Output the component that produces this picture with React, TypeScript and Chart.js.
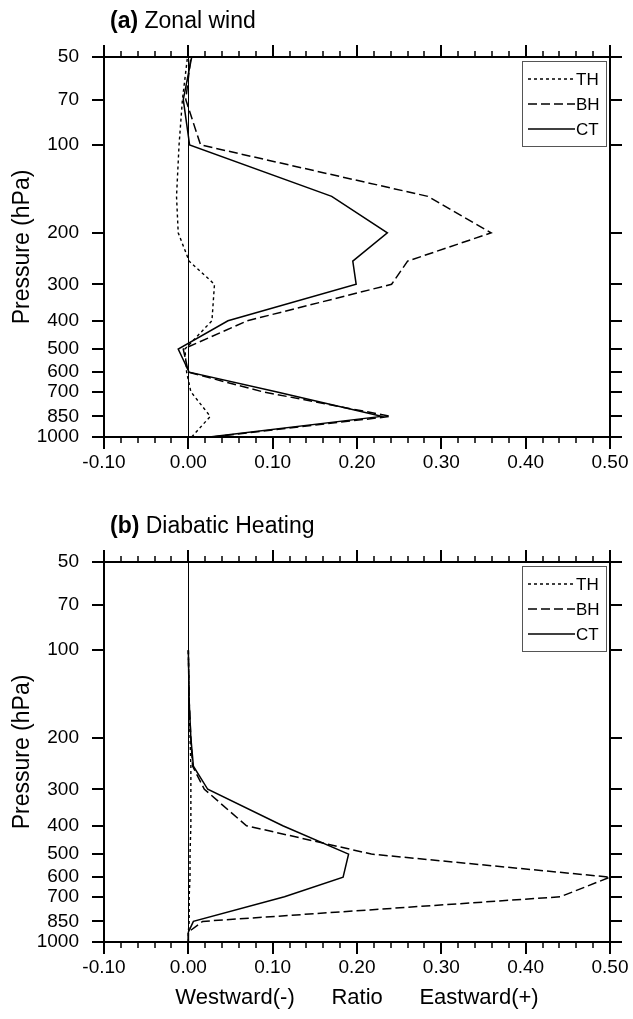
import React, { useEffect, useRef } from "react";
import { Chart, registerables } from "chart.js";

Chart.register(...registerables);

const FONT = '"Liberation Sans", Arial, Helvetica, sans-serif';

const pressureTicks = [50, 70, 100, 200, 300, 400, 500, 600, 700, 850, 1000];
const ratioTicks = [-0.1, 0, 0.1, 0.2, 0.3, 0.4, 0.5];
const minorStep = 0.02;
const seriesNames = ["TH", "BH", "CT"];
const xTitle = "Westward(-)      Ratio      Eastward(+)";

// (a) Zonal wind
const levelsA = [1000, 850, 700, 600, 500, 400, 300, 250, 200, 150, 100, 70, 50];
const thA = [0.004, 0.026, 0.003, -0.002, -0.004, 0.028, 0.031, 0.001, -0.012, -0.014, -0.011, -0.007, -0.001];
const bhA = [0.028, 0.24, 0.088, 0.0, -0.006, 0.07, 0.241, 0.26, 0.359, 0.284, 0.0145, -0.003, 0.003];
const ctA = [0.025, 0.229, 0.104, 0.001, -0.012, 0.047, 0.199, 0.195, 0.236, 0.17, 0.0015, -0.006, 0.004];

// (b) Diabatic Heating
const levelsB = [1000, 925, 850, 700, 600, 500, 400, 300, 250, 200, 150, 100];
const thB = [0.0, 0.0, 0.001, 0.001, 0.002, 0.002, 0.003, 0.003, 0.003, 0.002, 0.001, 0.0];
const bhB = [0.0, 0.0, 0.017, 0.441, 0.5, 0.217, 0.069, 0.019, 0.005, 0.003, 0.001, 0.0];
const ctB = [0.0, 0.0, 0.006, 0.114, 0.1835, 0.19, 0.112, 0.023, 0.006, 0.003, 0.001, 0.0];

const dashes: Record<string, number[]> = { TH: [3, 3], BH: [9, 4], CT: [] };
const widths: Record<string, number> = { TH: 1.4, BH: 1.5, CT: 1.5 };

const W = 633;
const AREA_TOP = 57;
const AREA_BOTTOM = 437;
const AREA_LEFT = 104;
const AREA_RIGHT = 610;

type PanelProps = {
  tag: string;
  title: string;
  levels: number[];
  series: number[][];
  height: number;
  top: number;
  showXTitle: boolean;
};

function Panel({ tag, title, levels, series, height, top, showXTitle }: PanelProps) {
  const ref = useRef<HTMLCanvasElement | null>(null);

  useEffect(() => {
    if (!ref.current) return;

    const decor = {
      id: "decor",
      beforeDatasetsDraw(chart: any) {
        const { ctx, chartArea } = chart;
        const xs = chart.scales.x;
        const px = Math.round(xs.getPixelForValue(0)) + 0.5;
        ctx.save();
        ctx.strokeStyle = "#000";
        ctx.lineWidth = 1;
        ctx.beginPath();
        ctx.moveTo(px, chartArea.top);
        ctx.lineTo(px, chartArea.bottom);
        ctx.stroke();
        ctx.restore();
      },
      afterDatasetsDraw(chart: any) {
        const { ctx, chartArea } = chart;
        const { left, right, top: t, bottom } = chartArea;
        const xs = chart.scales.x;
        const ys = chart.scales.y;
        ctx.save();
        ctx.strokeStyle = "#000";
        ctx.lineCap = "butt";
        // frame
        ctx.lineWidth = 2;
        ctx.strokeRect(left, t, right - left, bottom - t);
        // x major ticks
        ctx.lineWidth = 2;
        ctx.beginPath();
        for (const v of ratioTicks) {
          const p = Math.round(xs.getPixelForValue(v));
          ctx.moveTo(p, bottom);
          ctx.lineTo(p, bottom + 12);
          ctx.moveTo(p, t);
          ctx.lineTo(p, t - 12);
        }
        ctx.stroke();
        // x minor ticks
        ctx.lineWidth = 1.5;
        ctx.beginPath();
        const n = Math.round((ratioTicks[ratioTicks.length - 1] - ratioTicks[0]) / minorStep);
        for (let i = 0; i <= n; i++) {
          if (i % 5 === 0) continue;
          const v = ratioTicks[0] + i * minorStep;
          const p = Math.round(xs.getPixelForValue(v));
          ctx.moveTo(p, bottom);
          ctx.lineTo(p, bottom + 6);
          ctx.moveTo(p, t);
          ctx.lineTo(p, t - 6);
        }
        ctx.stroke();
        // y ticks
        ctx.lineWidth = 2;
        ctx.beginPath();
        for (const pr of pressureTicks) {
          const p = Math.round(ys.getPixelForValue(pr));
          ctx.moveTo(left, p);
          ctx.lineTo(left - 12, p);
          ctx.moveTo(right, p);
          ctx.lineTo(right + 12, p);
        }
        ctx.stroke();

        // legend
        const bx = right - 88;
        const by = t + 4;
        ctx.fillStyle = "#fff";
        ctx.fillRect(bx, by, 84, 85);
        ctx.strokeStyle = "#555";
        ctx.lineWidth = 1;
        ctx.strokeRect(bx + 0.5, by + 0.5, 84, 85);
        ctx.font = `17px ${FONT}`;
        ctx.textBaseline = "middle";
        ctx.textAlign = "left";
        ctx.fillStyle = "#000";
        seriesNames.forEach((name, i) => {
          const ly = t + 22 + i * 25;
          ctx.strokeStyle = "#000";
          ctx.lineWidth = widths[name];
          ctx.setLineDash(dashes[name]);
          ctx.beginPath();
          ctx.moveTo(bx + 6, ly);
          ctx.lineTo(bx + 53, ly);
          ctx.stroke();
          ctx.setLineDash([]);
          ctx.fillText(name, bx + 54, ly + 1);
        });

        // panel title
        ctx.textBaseline = "middle";
        ctx.fillStyle = "#000";
        ctx.font = `bold 23px ${FONT}`;
        ctx.fillText(tag, 110, 22);
        const tw = ctx.measureText(tag).width;
        ctx.font = `23px ${FONT}`;
        ctx.fillText(" " + title, 110 + tw, 22);
        ctx.restore();
      },
    };

    const datasets = seriesNames.map((name, k) => ({
      label: name,
      data: levels.map((p, i) => ({ x: series[k][i], y: p })),
      borderColor: "#000",
      borderWidth: widths[name],
      borderDash: dashes[name],
      pointRadius: 0,
      fill: false,
      tension: 0,
    }));

    const chart = new Chart(ref.current, {
      type: "line",
      data: { datasets },
      plugins: [decor],
      options: {
        responsive: false,
        animation: false,
        events: [],
        layout: { padding: { top: AREA_TOP, right: W - AREA_RIGHT, left: 0, bottom: 0 } },
        plugins: { legend: { display: false }, tooltip: { enabled: false }, title: { display: false } },
        scales: {
          x: {
            type: "linear",
            min: ratioTicks[0],
            max: ratioTicks[ratioTicks.length - 1],
            afterBuildTicks: (s: any) => {
              s.ticks = ratioTicks.map((v) => ({ value: v }));
            },
            afterFit: (s: any) => {
              s.height = height - AREA_BOTTOM;
            },
            grid: { display: false, drawTicks: true, tickLength: 14 },
            border: { display: false },
            ticks: {
              padding: 0,
              autoSkip: false,
              maxRotation: 0,
              color: "#000",
              font: { family: FONT, size: 19 },
              callback: (v: any) => Number(v).toFixed(2),
            },
            title: {
              display: showXTitle,
              text: xTitle,
              color: "#000",
              font: { family: FONT, size: 22 },
              padding: { top: 0, bottom: 8 },
            },
          },
          y: {
            type: "logarithmic",
            reverse: true,
            min: 50,
            max: 1000,
            afterBuildTicks: (s: any) => {
              s.ticks = pressureTicks.map((v) => ({ value: v }));
            },
            afterFit: (s: any) => {
              s.width = AREA_LEFT;
            },
            grid: { display: false, drawTicks: true, tickLength: 25 },
            border: { display: false },
            ticks: {
              padding: 0,
              autoSkip: false,
              color: "#000",
              font: { family: FONT, size: 19 },
              callback: (v: any) => String(v),
            },
            title: {
              display: true,
              text: "Pressure (hPa)",
              color: "#000",
              font: { family: FONT, size: 23 },
              padding: { top: 9, bottom: 0 },
            },
          },
        },
      },
    } as any);

    return () => chart.destroy();
  }, []);

  return (
    <canvas
      ref={ref}
      width={W}
      height={height}
      style={{ position: "absolute", left: 0, top, width: W, height }}
    />
  );
}

export default function App() {
  useEffect(() => {
    document.body.style.margin = "0";
    document.body.style.background = "#fff";
  }, []);
  return (
    <div style={{ position: "absolute", left: 0, top: 0, width: W, height: 1019, background: "#fff" }}>
      <Panel
        tag="(a)"
        title="Zonal wind"
        levels={levelsA}
        series={[thA, bhA, ctA]}
        height={505}
        top={0}
        showXTitle={false}
      />
      <Panel
        tag="(b)"
        title="Diabatic Heating"
        levels={levelsB}
        series={[thB, bhB, ctB]}
        height={514}
        top={505}
        showXTitle={true}
      />
    </div>
  );
}
